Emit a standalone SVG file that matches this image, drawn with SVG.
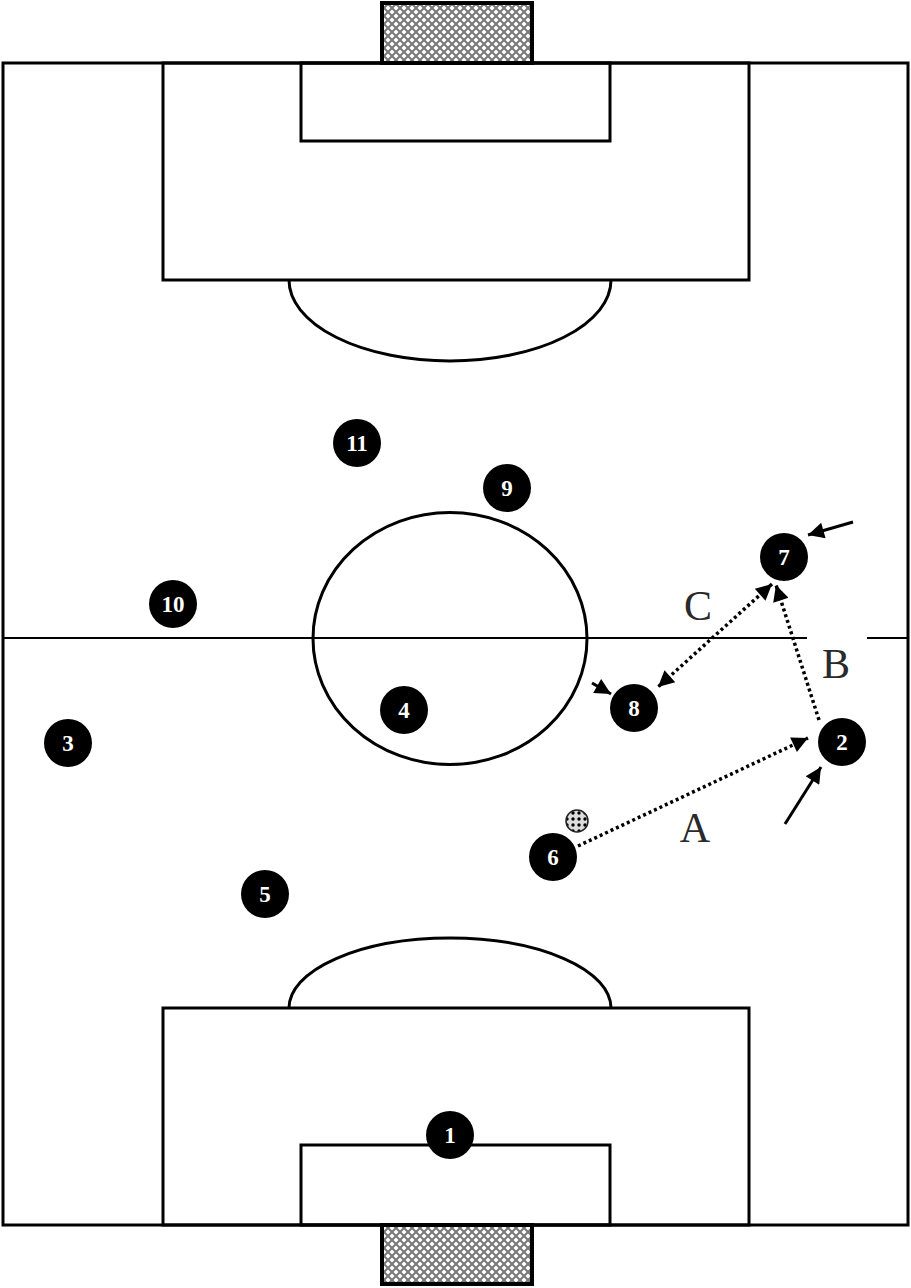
<svg xmlns="http://www.w3.org/2000/svg" width="911" height="1288" viewBox="0 0 911 1288">
<style>
.ln{fill:none;stroke:#000;stroke-width:3}
.thin{fill:none;stroke:#000;stroke-width:2}
.pl circle{fill:#000}
.pl text{fill:#fff;font-family:"Liberation Serif",serif;font-weight:bold;font-size:23px;text-anchor:middle}
.lbl{fill:#2a2a2a;font-family:"Liberation Serif",serif;font-size:42px;text-anchor:middle}
.dot{fill:none;stroke:#000;stroke-width:3.5;stroke-dasharray:3 3}
.sol{fill:none;stroke:#000;stroke-width:3}
</style>
<defs>
<pattern id="net" width="8" height="8" patternUnits="userSpaceOnUse">
<rect width="8" height="8" fill="#fff"/>
<path d="M0 0L8 8M8 0L0 8" stroke="#777" stroke-width="2"/>
</pattern>
<pattern id="ballp" width="6" height="6" patternUnits="userSpaceOnUse">
<rect width="6" height="6" fill="#ddd"/>
<circle cx="3" cy="3" r="1.7" fill="#000"/>
</pattern>
<marker id="ah" viewBox="0 0 10 10" refX="10" refY="5" markerWidth="20" markerHeight="16" markerUnits="userSpaceOnUse" orient="auto-start-reverse">
<path d="M0 0L10 5L0 10z" fill="#000"/>
</marker>
</defs>
<rect width="911" height="1288" fill="#fff"/>
<g id="field">
<rect x="382" y="3" width="150" height="60" fill="url(#net)" stroke="#000" stroke-width="4"/>
<rect x="382" y="1225" width="150" height="59" fill="url(#net)" stroke="#000" stroke-width="4"/>
<rect x="3" y="63" width="905" height="1162" class="ln"/>
<rect x="163" y="63" width="586" height="217" class="ln"/>
<rect x="301" y="63" width="309" height="78" class="ln"/>
<rect x="163" y="1008" width="586" height="217" class="ln"/>
<rect x="301" y="1145" width="309" height="80" class="ln"/>
<path d="M289 280A161 81 0 0 0 611 280" class="ln"/>
<path d="M289 1008A161 70 0 0 1 611 1008" class="ln"/>
<path d="M3 638H807M867 638H908" class="thin"/>
<ellipse cx="450" cy="638.5" rx="137" ry="126" class="ln"/>
</g>
<g id="connectors">
<line x1="578" y1="846" x2="808" y2="738" class="dot" marker-end="url(#ah)"/>
<line x1="819" y1="720" x2="776" y2="585" class="dot" marker-end="url(#ah)"/>
<line x1="772" y1="584" x2="658" y2="687" class="dot" marker-start="url(#ah)" marker-end="url(#ah)"/>
<line x1="853" y1="522" x2="808" y2="535" class="sol" marker-end="url(#ah)"/>
<line x1="785" y1="824" x2="821" y2="767" class="sol" marker-end="url(#ah)"/>
<line x1="592" y1="683" x2="611" y2="694" class="sol" marker-end="url(#ah)"/>
</g>
<g id="ball"><circle cx="577" cy="821" r="11" fill="url(#ballp)" stroke="#222" stroke-width="1.5"/></g>
<g id="p1" class="pl"><circle cx="450" cy="1135" r="24"/><text x="450" y="1143">1</text></g>
<g id="p2" class="pl"><circle cx="842" cy="742" r="24"/><text x="842" y="750">2</text></g>
<g id="p3" class="pl"><circle cx="68" cy="743" r="24"/><text x="68" y="751">3</text></g>
<g id="p4" class="pl"><circle cx="404" cy="710" r="24"/><text x="404" y="718">4</text></g>
<g id="p5" class="pl"><circle cx="265" cy="894" r="24"/><text x="265" y="902">5</text></g>
<g id="p6" class="pl"><circle cx="553" cy="857" r="24"/><text x="553" y="865">6</text></g>
<g id="p7" class="pl"><circle cx="784" cy="557" r="24"/><text x="784" y="565">7</text></g>
<g id="p8" class="pl"><circle cx="634" cy="708" r="24"/><text x="634" y="716">8</text></g>
<g id="p9" class="pl"><circle cx="507" cy="488" r="24"/><text x="507" y="496">9</text></g>
<g id="p10" class="pl"><circle cx="173" cy="604" r="24"/><text x="173" y="612">10</text></g>
<g id="p11" class="pl"><circle cx="357" cy="443" r="24"/><text x="357" y="451">11</text></g>
<g id="labels">
<text x="695" y="842" class="lbl">A</text>
<text x="836" y="678" class="lbl">B</text>
<text x="698" y="620" class="lbl">C</text>
</g>
</svg>
